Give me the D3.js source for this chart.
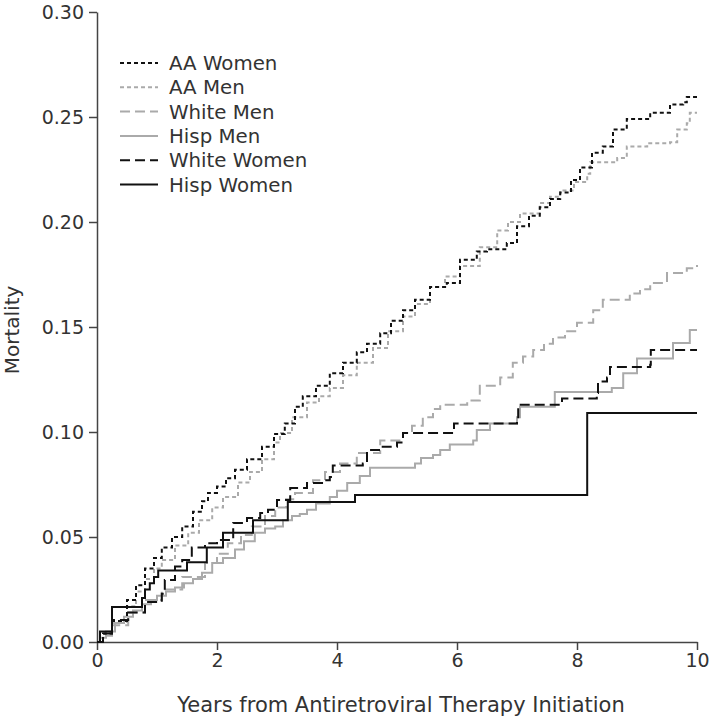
<!DOCTYPE html>
<html>
<head>
<meta charset="utf-8">
<script src="https://cdn.jsdelivr.net/npm/d3@7"></script>
<style>
  body { margin: 0; background: #fff; }
  svg { display: block; }
  text { font-family: "DejaVu Sans", sans-serif; fill: #333; }
</style>
</head>
<body>
<svg id="chart" width="710" height="720"></svg>
<script>
// ---- data (years, cumulative mortality) ----
const seriesNames = ["AA Women", "AA Men", "White Men", "Hisp Men", "White Women", "Hisp Women"];

const aaWomen = [[0,0],[0.1,0.004],[0.25,0.010],[0.5,0.020],[0.65,0.027],[0.8,0.035],[0.95,0.040],[1.08,0.045],[1.25,0.050],[1.42,0.055],[1.6,0.062],[1.75,0.067],[1.85,0.071],[2.0,0.074],[2.15,0.078],[2.3,0.082],[2.5,0.087],[2.75,0.093],[2.95,0.099],[3.13,0.104],[3.3,0.112],[3.43,0.117],[3.65,0.122],[3.88,0.128],[4.1,0.133],[4.33,0.138],[4.5,0.142],[4.72,0.147],[4.9,0.153],[5.1,0.158],[5.3,0.163],[5.55,0.169],[5.83,0.171],[6.05,0.182],[6.33,0.186],[6.5,0.187],[6.83,0.190],[7.0,0.198],[7.2,0.203],[7.38,0.207],[7.55,0.211],[7.72,0.214],[7.9,0.220],[8.05,0.226],[8.25,0.233],[8.43,0.236],[8.6,0.244],[8.83,0.249],[9.22,0.252],[9.55,0.256],[9.77,0.257],[9.83,0.2595],[10,0.2595]];

const aaMen = [[0,0],[0.1,0.004],[0.25,0.009],[0.5,0.017],[0.65,0.024],[0.8,0.030],[0.95,0.035],[1.08,0.039],[1.3,0.046],[1.52,0.052],[1.7,0.058],[1.92,0.064],[2.1,0.069],[2.35,0.076],[2.55,0.081],[2.75,0.087],[2.95,0.095],[3.05,0.0995],[3.25,0.107],[3.5,0.114],[3.7,0.117],[3.88,0.121],[4.1,0.127],[4.33,0.133],[4.6,0.140],[4.85,0.148],[5.1,0.155],[5.3,0.161],[5.55,0.169],[5.8,0.174],[6.05,0.179],[6.38,0.188],[6.67,0.196],[6.85,0.200],[7.05,0.204],[7.38,0.209],[7.55,0.212],[7.72,0.215],[7.95,0.219],[8.17,0.223],[8.22,0.2285],[8.67,0.2305],[8.83,0.236],[9.17,0.2375],[9.55,0.238],[9.67,0.244],[9.83,0.247],[9.88,0.252],[10,0.252]];

const whiteMen = [[0,0],[0.1,0.003],[0.25,0.008],[0.52,0.014],[0.8,0.020],[1.08,0.025],[1.42,0.031],[1.8,0.0376],[2.0,0.042],[2.18,0.047],[2.4,0.051],[2.58,0.055],[2.8,0.060],[2.97,0.064],[3.15,0.068],[3.3,0.071],[3.6,0.077],[3.8,0.081],[4.05,0.085],[4.33,0.090],[4.72,0.096],[5.1,0.0995],[5.25,0.103],[5.43,0.107],[5.6,0.111],[5.72,0.113],[6.17,0.115],[6.38,0.122],[6.72,0.126],[6.93,0.133],[7.1,0.136],[7.27,0.139],[7.45,0.142],[7.6,0.145],[7.8,0.148],[8.0,0.152],[8.27,0.158],[8.43,0.163],[8.88,0.166],[9.05,0.168],[9.22,0.171],[9.5,0.1757],[9.83,0.178],[10,0.1795]];

const hispMen = [[0,0],[0.05,0.002],[0.15,0.005],[0.3,0.009],[0.45,0.012],[0.6,0.015],[0.75,0.018],[0.9,0.020],[1.0,0.022],[1.15,0.024],[1.3,0.026],[1.45,0.028],[1.6,0.030],[1.75,0.033],[1.92,0.0376],[2.1,0.040],[2.3,0.044],[2.45,0.048],[2.63,0.052],[2.8,0.054],[2.97,0.055],[3.1,0.058],[3.25,0.060],[3.38,0.061],[3.5,0.063],[3.65,0.066],[3.88,0.069],[4.0,0.072],[4.17,0.0757],[4.38,0.079],[4.55,0.083],[5.3,0.085],[5.4,0.0876],[5.6,0.089],[5.72,0.0914],[5.88,0.094],[6.27,0.096],[6.33,0.101],[6.55,0.104],[7.0,0.107],[7.05,0.112],[7.63,0.119],[8.58,0.121],[8.77,0.128],[9.0,0.135],[9.6,0.1424],[9.88,0.1486],[10,0.1486]];

const whiteWomen = [[0,0],[0.1,0.004],[0.25,0.0105],[0.52,0.014],[0.8,0.019],[1.08,0.023],[1.13,0.0295],[1.3,0.036],[1.42,0.039],[1.58,0.045],[1.8,0.047],[2.0,0.0486],[2.27,0.0567],[2.5,0.059],[2.72,0.0614],[2.85,0.063],[3.0,0.0676],[3.22,0.0733],[3.5,0.0757],[3.77,0.077],[3.88,0.0786],[3.93,0.084],[4.43,0.085],[4.5,0.0914],[4.7,0.093],[5.0,0.095],[5.1,0.0995],[5.95,0.104],[7.0,0.105],[7.02,0.113],[7.72,0.114],[7.75,0.116],[8.33,0.1186],[8.35,0.124],[8.5,0.126],[8.55,0.131],[9.22,0.132],[9.23,0.139],[10,0.139]];

const hispWomen = [[0,0],[0.05,0.005],[0.25,0.0167],[0.75,0.021],[0.8,0.025],[0.88,0.028],[0.95,0.031],[1.02,0.034],[1.5,0.038],[1.83,0.045],[2.1,0.052],[2.6,0.058],[3.18,0.0667],[4.3,0.070],[8.17,0.109],[10,0.109]];

const xTicks = [0, 2, 4, 6, 8, 10];
const yTicks = [0, 0.05, 0.10, 0.15, 0.20, 0.25, 0.30];
const xTitle = "Years from Antiretroviral Therapy Initiation";
const yTitle = "Mortality";

// ---- styles ----
const styles = [
  { color: "#111", dash: "4,3" },
  { color: "#aaa", dash: "4,3" },
  { color: "#aaa", dash: "10,5" },
  { color: "#aaa", dash: null },
  { color: "#111", dash: "10,5" },
  { color: "#111", dash: null }
];
const seriesData = [aaWomen, aaMen, whiteMen, hispMen, whiteWomen, hispWomen];

// ---- layout ----
const svg = d3.select("#chart");
const mLeft = 97, mRight = 697, mTop = 12, mBottom = 642;
const x = d3.scaleLinear().domain([0, 10]).range([mLeft, mRight]);
const y = d3.scaleLinear().domain([0, 0.30]).range([mBottom, mTop]);

// axes
const xAxis = svg.append("g").attr("transform", `translate(0,${mBottom})`)
  .call(d3.axisBottom(x).tickValues(xTicks).tickFormat(d3.format("d")).tickSize(8).tickPadding(4).tickSizeOuter(0));
const yAxis = svg.append("g").attr("transform", `translate(${mLeft},0)`)
  .call(d3.axisLeft(y).tickValues(yTicks).tickFormat(d3.format(".2f")).tickSize(8).tickPadding(5).tickSizeOuter(0));
[xAxis, yAxis].forEach(g => {
  g.selectAll("path, line").attr("stroke", "#444").attr("stroke-width", 1.5);
  g.selectAll("text").attr("font-size", 19).attr("font-family", "DejaVu Sans").attr("fill", "#333");
});

// lines
const line = d3.line().x(d => x(d[0])).y(d => y(d[1])).curve(d3.curveStepAfter);
const order = [3, 2, 1, 0, 5, 4];
order.forEach(i => {
  svg.append("path")
    .datum(seriesData[i])
    .attr("d", line)
    .attr("fill", "none")
    .attr("stroke", styles[i].color)
    .attr("stroke-width", 2)
    .attr("stroke-dasharray", styles[i].dash);
});

// legend
const legY0 = 63, legDy = 24.3;
seriesNames.forEach((name, i) => {
  const yy = legY0 + i * legDy;
  svg.append("line")
    .attr("x1", 120).attr("x2", 158).attr("y1", yy).attr("y2", yy)
    .attr("stroke", styles[i].color).attr("stroke-width", 2)
    .attr("stroke-dasharray", styles[i].dash);
  svg.append("text").attr("x", 169).attr("y", yy).attr("dy", "0.36em")
    .attr("font-size", 19.8).text(name);
});

// titles
svg.append("text").attr("x", 401).attr("y", 712).attr("text-anchor", "middle")
  .attr("font-size", 21).text(xTitle);
svg.append("text").attr("transform", "translate(19,330) rotate(-90)").attr("text-anchor", "middle")
  .attr("font-size", 20).text(yTitle);
</script>
</body>
</html>
